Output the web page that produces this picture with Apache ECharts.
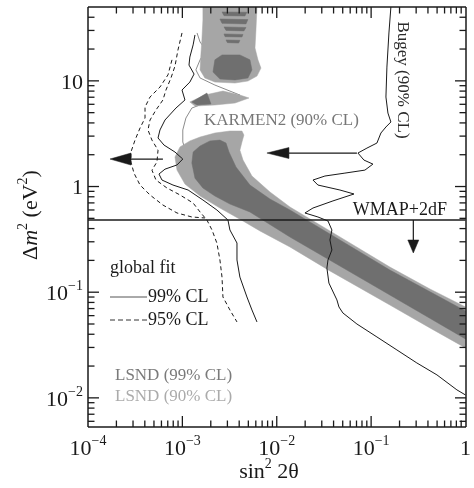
<!DOCTYPE html>
<html>
<head>
<meta charset="utf-8">
<script src="https://cdn.jsdelivr.net/npm/echarts@6/dist/echarts.min.js"></script>
<style>
html, body { margin: 0; padding: 0; background: #fff; }
#chart { width: 474px; height: 488px; }
</style>
</head>
<body>
<div id="chart"></div>
<script>
// Axis ranges and tick labels
const xRange = [1e-4, 1];
const yRange = [0.0053, 50];
const xTickValues = [1e-4, 1e-3, 1e-2, 1e-1, 1];
const xTickLabels = ['{b|10}{s|−4}', '{b|10}{s|−3}', '{b|10}{s|−2}', '{b|10}{s|−1}', '{b|1}'];
const yTickValues = [1e-2, 1e-1, 1, 10];
const yTickLabels = ['{b|10}{s|−2}', '{b|10}{s|−1}', '{b|1}', '{b|10}'];

// LSND allowed regions, [sin^2 2θ, Δm^2] outlines
const lsnd99Band = [
  [8.35e-4, 1.90], [9.44e-4, 2.37], [1.20e-3, 2.70], [1.54e-3, 2.94], [2.21e-3, 3.21],
  [3.19e-3, 3.35], [4.28e-3, 3.35], [4.49e-3, 3.07], [4.28e-3, 2.64], [4.07e-3, 2.21],
  [4.39e-3, 1.78], [5.46e-3, 1.257], [8.47e-3, 0.888], [1.38e-2, 0.640], [3.66e-2, 0.380],
  [0.158, 0.173], [0.420, 0.1072], [1, 0.0725], [1, 0.0297], [0.420, 0.0459],
  [0.158, 0.0757], [3.66e-2, 0.159], [1.38e-2, 0.268], [6.64e-3, 0.380], [4.39e-3, 0.472],
  [2.50e-3, 0.626], [1.54e-3, 0.814], [1.065e-3, 1.056], [8.77e-4, 1.43]
];
const lsnd90Band = [
  [1.26e-3, 1.67], [1.30e-3, 2.12], [1.54e-3, 2.42], [1.96e-3, 2.70], [2.50e-3, 2.75],
  [2.90e-3, 2.58], [3.12e-3, 2.12], [3.70e-3, 1.53], [5.20e-3, 1.033], [8.47e-3, 0.762],
  [1.38e-2, 0.600], [0.158, 0.162], [1, 0.0664], [1, 0.0361], [0.158, 0.0941],
  [1.38e-2, 0.333], [5.20e-3, 0.574], [3.19e-3, 0.683], [2.21e-3, 0.814], [1.65e-3, 0.968],
  [1.36e-3, 1.20]
];
const lsnd99Top = [
  [1.65e-3, 50], [6.17e-3, 50], [6.02e-3, 30.3], [5.88e-3, 20.5], [6.32e-3, 15.8],
  [6.80e-3, 13.2], [6.17e-3, 11.1], [4.95e-3, 9.96], [3.61e-3, 9.54], [2.21e-3, 9.74],
  [1.73e-3, 10.65], [1.54e-3, 12.7], [1.57e-3, 17.6], [1.61e-3, 24.4], [1.65e-3, 37.7]
];
const lsnd99Wedge = [
  [1.20e-3, 6.31], [1.73e-3, 7.34], [2.69e-3, 8.01], [4.07e-3, 7.34], [5.08e-3, 6.88],
  [3.61e-3, 6.17], [2.21e-3, 5.91], [1.36e-3, 5.78]
];
const lsnd90Wedge = [[1.26e-3, 6.31], [1.82e-3, 7.67], [2.01e-3, 6.04], [1.43e-3, 5.91]];
const lsnd90Blob = [
  [2.21e-3, 15.8], [2.63e-3, 17.6], [4.07e-3, 17.6], [5.20e-3, 15.8], [5.46e-3, 12.7],
  [4.95e-3, 10.65], [3.61e-3, 10.2], [2.50e-3, 10.4], [2.11e-3, 12.1]
];
const lsnd90Stripes = [
  [[2.63e-3, 44.9], [4.83e-3, 44.6], [4.60e-3, 41.1], [2.76e-3, 41.4]],
  [[2.50e-3, 38.5], [4.95e-3, 38.0], [4.72e-3, 34.6], [2.63e-3, 35.0]],
  [[2.76e-3, 32.4], [4.72e-3, 32.0], [4.49e-3, 29.7], [2.90e-3, 30.0]],
  [[2.76e-3, 27.8], [4.39e-3, 27.5], [4.28e-3, 26.0], [2.83e-3, 26.2]],
  [[2.90e-3, 24.4], [4.07e-3, 24.2], [3.95e-3, 22.8], [3.00e-3, 23.0]]
];

// Exclusion curves
const karmen2 = [
  [1.43e-3, 28.4], [1.54e-3, 23.3], [1.78e-3, 19.6], [1.54e-3, 15.8], [1.39e-3, 12.7],
  [1.54e-3, 10.65], [2.21e-3, 9.13], [4.07e-3, 7.34], [2.83e-3, 6.73], [1.73e-3, 6.17],
  [1.26e-3, 5.53], [1.09e-3, 4.45], [1.01e-3, 3.43], [1.01e-3, 2.64], [1.09e-3, 2.12],
  [1.20e-3, 1.71], [1.36e-3, 1.37], [1.54e-3, 1.103]
];
const bugey = [
  [0.162, 50], [0.1544, 28.4], [0.147, 13.5], [0.1435, 7.03], [0.1507, 4.96],
  [0.162, 4.08], [0.1435, 3.66], [0.127, 3.21], [0.1152, 2.58], [0.0903, 2.31],
  [0.0725, 2.075], [0.0839, 1.78], [0.1045, 1.63], [0.0859, 1.43], [0.0528, 1.34],
  [0.0324, 1.257], [0.0242, 1.152], [0.0273, 1.033], [0.0467, 0.927], [0.0658, 0.850],
  [0.0394, 0.731], [0.0242, 0.626], [0.0199, 0.562], [0.0273, 0.515], [0.0349, 0.472],
  [0.0384, 0.388], [0.0366, 0.312], [0.0384, 0.251], [0.0349, 0.2017], [0.0340, 0.169],
  [0.0357, 0.122], [0.0434, 0.0845], [0.0456, 0.0725], [0.0502, 0.0636], [0.0707, 0.0500],
  [0.1152, 0.0377], [0.1876, 0.0284], [0.305, 0.0214], [0.498, 0.0165], [0.811, 0.0119],
  [1, 0.01065]
];

// Global fit contours
const fit99 = [
  [1.36e-3, 27.2], [1.30e-3, 21.9], [1.20e-3, 16.8], [1.175e-3, 14.1], [1.33e-3, 11.6],
  [1.20e-3, 9.74], [9.91e-4, 8.19], [1.065e-3, 6.59], [8.55e-4, 5.53], [6.54e-4, 4.26],
  [5.79e-4, 3.43], [5.52e-4, 2.88], [6.38e-4, 2.47], [8.35e-4, 2.12], [1.01e-3, 1.82],
  [8.77e-4, 1.60], [6.54e-4, 1.46], [5.65e-4, 1.313], [6.08e-4, 1.152], [7.95e-4, 1.033],
  [1.15e-3, 0.927], [1.65e-3, 0.746], [2.32e-3, 0.600], [3.04e-3, 0.482], [3.19e-3, 0.388],
  [3.79e-3, 0.292], [3.79e-3, 0.2017], [4.07e-3, 0.139], [4.83e-3, 0.0901], [5.46e-3, 0.0679],
  [6.17e-3, 0.0523]
];
const fit95Outer = [
  [7.76e-4, 15.8], [7.04e-4, 11.4], [5.79e-4, 8.74], [4.54e-4, 7.03], [4.02e-4, 5.65],
  [4.02e-4, 4.45], [3.56e-4, 3.58], [3.15e-4, 2.75], [2.85e-4, 2.12], [2.85e-4, 1.71],
  [3.07e-4, 1.34], [3.56e-4, 1.033], [4.54e-4, 0.832], [6.22e-4, 0.668], [8.77e-4, 0.562],
  [1.26e-3, 0.515], [1.73e-3, 0.504]
];
const fit95Inner = [
  [9.91e-4, 28.4], [8.98e-4, 19.6], [8.35e-4, 13.8], [7.57e-4, 10.65], [6.70e-4, 8.19],
  [6.22e-4, 6.59], [5.25e-4, 5.30], [4.54e-4, 4.26], [4.32e-4, 3.43], [4.76e-4, 2.75],
  [5.52e-4, 2.21], [5.38e-4, 1.71], [4.76e-4, 1.43], [5.25e-4, 1.152], [6.87e-4, 0.968],
  [9.44e-4, 0.832], [1.30e-3, 0.698], [1.54e-3, 0.574], [1.82e-3, 0.482], [2.06e-3, 0.388],
  [2.32e-3, 0.292], [2.50e-3, 0.2017], [2.63e-3, 0.139], [2.69e-3, 0.0901], [3.19e-3, 0.0679],
  [3.79e-3, 0.0523]
];

// Cosmological bound and arrows (tail point, tip point)
const wmapBound = 0.482;
const arrows = [
  [[6.22e-4, 1.82], [1.71e-4, 1.82]],
  [[7.07e-2, 2.075], [7.87e-3, 2.075]],
  [[0.28, wmapBound], [0.28, 0.235]]
];
const arrowHeads = [[21, 6], [22, 5.5], [13, 5.5]];

// Minor tick positions (2..9 in every decade)
const xMinor = [];
for (let e = -4; e <= -1; e++) for (let k = 2; k <= 9; k++) xMinor.push(k * Math.pow(10, e));
const yMinor = [];
for (let e = -3; e <= 1; e++) for (let k = 2; k <= 9; k++) {
  const v = k * Math.pow(10, e);
  if (v > yRange[0] && v < yRange[1]) yMinor.push(v);
}

const SERIF = '"Liberation Serif", "Times New Roman", serif';
const INK = '#1a1a1a';
const LIGHT = '#a6a6a6';
const DARK = '#6f6f6f';
const W = 474, H = 488;
const GRID = { left: 88, right: 8, top: 7, bottom: 61 };

function labelFor(values, labels) {
  return function (v) {
    const lv = Math.log10(v);
    for (let i = 0; i < values.length; i++) {
      if (Math.abs(lv - Math.log10(values[i])) < 1e-6) return labels[i];
    }
    return '';
  };
}
const tickRich = {
  b: { fontFamily: SERIF, fontSize: 22, color: INK, lineHeight: 26, verticalAlign: 'bottom' },
  s: { fontFamily: SERIF, fontSize: 14, color: INK, lineHeight: 14, verticalAlign: 'top' }
};

function polygonSeries(polys, color, z) {
  return {
    type: 'custom', coordinateSystem: 'cartesian2d', z: z,
    clip: true, silent: true,
    data: polys.map(p => p[0]),
    renderItem: function (params, api) {
      const pts = polys[params.dataIndex].map(p => api.coord(p));
      return { type: 'polygon', shape: { points: pts }, style: { fill: color, stroke: color, lineWidth: 0.5 } };
    }
  };
}
function curve(data, color, dashed, width, z) {
  return {
    type: 'line', data: data, showSymbol: false, symbol: 'none',
    clip: true, silent: true, z: z,
    lineStyle: { color: color, width: width, type: dashed ? [4, 3] : 'solid' }
  };
}

// Frame with inward tick marks on all four sides; positions come from the axis scales
const frameTicks = {
  type: 'custom', coordinateSystem: 'cartesian2d', z: 8, clip: false, silent: true,
  data: [[0.01, 1]],
  renderItem: function (params, api) {
    const left = GRID.left, right = W - GRID.right, top = GRID.top, bottom = H - GRID.bottom;
    const kids = [];
    function seg(x1, y1, x2, y2, w) {
      kids.push({ type: 'line', shape: { x1: x1, y1: y1, x2: x2, y2: y2 }, style: { stroke: INK, lineWidth: w } });
    }
    function xt(v, len) {
      const x = api.coord([v, 1])[0];
      seg(x, bottom, x, bottom - len, 1.3);
      seg(x, top, x, top + len, 1.3);
    }
    function yt(v, len) {
      const y = api.coord([0.01, v])[1];
      seg(left, y, left + len, y, 1.3);
      seg(right, y, right - len, y, 1.3);
    }
    xTickValues.slice(1, -1).forEach(v => xt(v, 11));
    xMinor.forEach(v => xt(v, 6.5));
    yTickValues.forEach(v => yt(v, 11));
    yMinor.forEach(v => yt(v, 6.5));
    seg(left, top, right, top, 1.5);
    seg(right, top, right, bottom, 1.5);
    seg(left, bottom, right, bottom, 1.5);
    seg(left, top, left, bottom, 1.5);
    return { type: 'group', children: kids };
  }
};

const chart = echarts.init(document.getElementById('chart'), null, { renderer: 'canvas' });
chart.setOption({
  animation: false,
  backgroundColor: '#fff',
  grid: { left: GRID.left, right: GRID.right, top: GRID.top, bottom: GRID.bottom },
  xAxis: {
    type: 'log', min: xRange[0], max: xRange[1],
    axisLine: { show: false }, axisTick: { show: false }, splitLine: { show: false },
    axisLabel: { margin: 7, formatter: labelFor(xTickValues, xTickLabels), rich: tickRich,
      showMinLabel: true, showMaxLabel: true, hideOverlap: false }
  },
  yAxis: {
    type: 'log', min: yRange[0], max: yRange[1],
    axisLine: { show: false }, axisTick: { show: false }, splitLine: { show: false },
    axisLabel: { margin: 5, formatter: labelFor(yTickValues, yTickLabels), rich: tickRich, hideOverlap: false }
  },
  series: [
    curve(karmen2, '#8c8c8c', false, 1, 2),
    polygonSeries([lsnd99Band, lsnd99Top, lsnd99Wedge], LIGHT, 3),
    polygonSeries([lsnd90Band, lsnd90Blob, lsnd90Wedge].concat(lsnd90Stripes), DARK, 4),
    curve(fit95Outer, INK, true, 1, 6),
    curve(fit95Inner, INK, true, 1, 6),
    curve(fit99, INK, false, 1, 6),
    curve(bugey, INK, false, 1, 6),
    curve([[xRange[0], wmapBound], [xRange[1], wmapBound]], INK, false, 1.5, 7),
    frameTicks,
    {
      type: 'custom', coordinateSystem: 'cartesian2d', z: 8, clip: false, silent: true,
      data: arrows.map(a => a[1]),
      renderItem: function (params, api) {
        const a = arrows[params.dataIndex];
        const head = arrowHeads[params.dataIndex];
        const t = api.coord(a[0]);
        const p = api.coord(a[1]);
        const dx = p[0] - t[0], dy = p[1] - t[1];
        const len = Math.sqrt(dx * dx + dy * dy);
        const ux = dx / len, uy = dy / len;
        const bx = p[0] - ux * head[0], by = p[1] - uy * head[0];
        return {
          type: 'group', children: [
            { type: 'line', shape: { x1: t[0], y1: t[1], x2: bx, y2: by }, style: { stroke: INK, lineWidth: 1.2 } },
            { type: 'polygon', shape: { points: [p, [bx - uy * head[1], by + ux * head[1]], [bx + uy * head[1], by - ux * head[1]]] },
              style: { fill: INK, stroke: INK, lineWidth: 0.5 } }
          ]
        };
      }
    }
  ],
  graphic: [
    { type: 'text', x: 29, y: 215, rotation: Math.PI / 2,
      style: { text: '{n|Δ}{i|m}{s|2}{n| (eV}{s|2}{n|)}', align: 'center', verticalAlign: 'middle',
        rich: {
          n: { fontFamily: SERIF, fontSize: 22, fill: INK, lineHeight: 26, verticalAlign: 'bottom' },
          i: { fontFamily: SERIF, fontSize: 22, fontStyle: 'italic', fill: INK, lineHeight: 26, verticalAlign: 'bottom' },
          s: { fontFamily: SERIF, fontSize: 14, fill: INK, lineHeight: 14, verticalAlign: 'top' }
        } } },
    { type: 'text', x: 269, y: 470,
      style: { text: '{n|sin}{s|2}{n| 2θ}', align: 'center', verticalAlign: 'middle',
        rich: {
          n: { fontFamily: SERIF, fontSize: 22, fill: INK, lineHeight: 26, verticalAlign: 'bottom' },
          s: { fontFamily: SERIF, fontSize: 14, fill: INK, lineHeight: 14, verticalAlign: 'top' }
        } } },
    { type: 'text', x: 204, y: 121, style: { text: 'KARMEN2 (90% CL)', font: '17px ' + SERIF, fill: '#777', verticalAlign: 'middle' } },
    { type: 'text', x: 447, y: 210, style: { text: 'WMAP+2dF', font: '18px ' + SERIF, fill: INK, align: 'right', verticalAlign: 'middle' } },
    { type: 'text', x: 402, y: 80, rotation: -Math.PI / 2, style: { text: 'Bugey (90% CL)', font: '17px ' + SERIF, fill: '#2a2a2a', align: 'center', verticalAlign: 'middle' } },
    { type: 'text', x: 110, y: 268, style: { text: 'global fit', font: '18px ' + SERIF, fill: INK, verticalAlign: 'middle' } },
    { type: 'line', shape: { x1: 110, y1: 297, x2: 147, y2: 297 }, style: { stroke: '#555', lineWidth: 1 } },
    { type: 'text', x: 148, y: 297, style: { text: '99% CL', font: '18px ' + SERIF, fill: INK, verticalAlign: 'middle' } },
    { type: 'line', shape: { x1: 110, y1: 320, x2: 147, y2: 320 }, style: { stroke: '#333', lineWidth: 1, lineDash: [5, 3] } },
    { type: 'text', x: 148, y: 320, style: { text: '95% CL', font: '18px ' + SERIF, fill: INK, verticalAlign: 'middle' } },
    { type: 'text', x: 115, y: 376, style: { text: 'LSND (99% CL)', font: '17px ' + SERIF, fill: '#7a7a7a', verticalAlign: 'middle' } },
    { type: 'text', x: 115, y: 397, style: { text: 'LSND (90% CL)', font: '17px ' + SERIF, fill: '#ababab', verticalAlign: 'middle' } }
  ]
});
</script>
</body>
</html>
